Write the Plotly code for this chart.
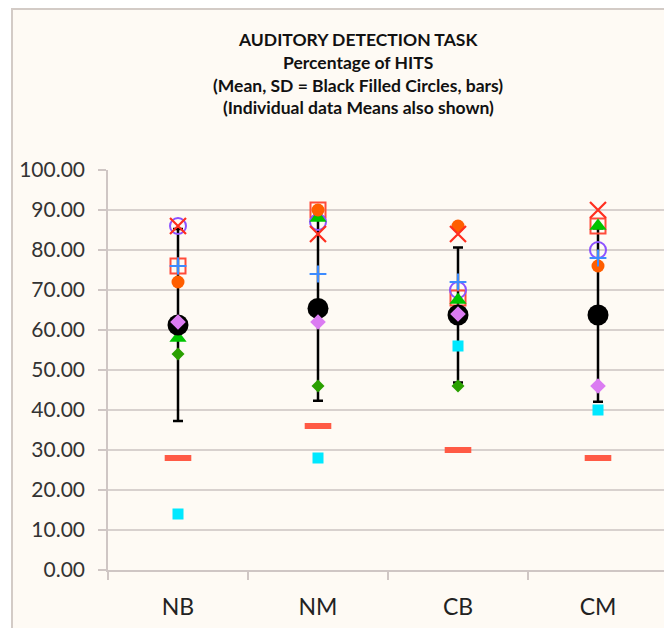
import plotly.graph_objects as go

categories = ["NB", "NM", "CB", "CM"]
mean_hits = [61.25, 65.4, 63.75, 63.75]
sd_hits = [24.0, 23.1, 16.9, 21.7]

red_x = [86, 84, 84, 90]
purple_circle = [86, 87, 70, 80]
red_square = [76, 90, 68, 86]
blue_plus = [76, 74, 72, 78]
orange_circle = [72, 90, 86, 76]
green_triangle = [58, 88, 67.5, 86]
green_diamond = [54, 46, 46, None]
violet_diamond = [62, 62, 64, 46]
red_dash = [28, 36, 30, 28]
cyan_square = [14, 28, 56, 40]

title_lines = [
    "AUDITORY DETECTION TASK",
    "Percentage of HITS",
    "(Mean, SD = Black Filled Circles, bars)",
    "(Individual data Means also shown)",
]
y_ticks = [0, 10, 20, 30, 40, 50, 60, 70, 80, 90, 100]

fig = go.Figure()

# error bars (SD)
fig.add_trace(go.Scatter(
    x=categories, y=mean_hits, mode="markers",
    marker=dict(size=1, color="rgba(0,0,0,0)"),
    error_y=dict(type="data", array=sd_hits, color="black", thickness=2.5, width=5),
    showlegend=False, hoverinfo="skip"))

def add(y, symbol, color, size, lw=2, filled=True):
    if filled:
        marker = dict(symbol=symbol, color=color, size=size, line=dict(width=0))
    else:
        marker = dict(symbol=symbol, color=color, size=size, line=dict(color=color, width=lw))
    fig.add_trace(go.Scatter(x=categories, y=y, mode="markers", marker=marker, showlegend=False))

add(cyan_square, "square", "#00e8ff", 11)
add(red_dash, "line-ew-open", "#ff5a45", 19, lw=6, filled=False)
add(green_diamond, "diamond", "#2aa000", 10)
add(red_square, "square-open", "#ff4b3a", 15, lw=2, filled=False)
add(purple_circle, "circle-open", "#8c52ff", 16, lw=2, filled=False)
add(green_triangle, "triangle-up", "#00c400", 15)
add(orange_circle, "circle", "#ff5e00", 13)
add(blue_plus, "cross-thin-open", "#3d8bff", 12, lw=2, filled=False)
add(red_x, "x-thin-open", "#ff2d1e", 16, lw=2.2, filled=False)
add(mean_hits, "circle", "black", 21)
add(violet_diamond, "diamond", "#db7cf2", 12)

# page body has an 8px margin; figure coords = screen coords - 8
OFF = 8
L, T = 108 - OFF, 170 - OFF
W, H = 672, 628
pw, ph = 560, 400
R = W - L - pw
B = H - T - ph

def px(xs):
    return (xs - OFF - L) / pw

def py(ys):
    return (T + ph - (ys - OFF)) / ph

# cream panel with border
fig.add_shape(type="rect", xref="paper", yref="paper",
              x0=px(12), x1=px(720), y0=py(720), y1=py(9),
              fillcolor="#fefaf4", line=dict(color="#d3cbc6", width=2), layer="below")

for i, t in enumerate(title_lines):
    fig.add_annotation(xref="paper", yref="paper", x=px(358), y=py(39 + 23 * i),
                       text="<b>" + t + "</b>", showarrow=False,
                       font=dict(family="Lato, sans-serif", size=17.5, color="#111111"),
                       xanchor="center", yanchor="middle")

fig.update_layout(
    width=W, height=H,
    margin=dict(l=L, r=R, t=T, b=B),
    paper_bgcolor="white", plot_bgcolor="rgba(0,0,0,0)",
    showlegend=False,
    xaxis=dict(type="category", categoryorder="array", categoryarray=categories,
               range=[-0.5, 3.5], tickson="boundaries", ticks="outside", ticklen=8,
               tickcolor="#cfc6c4", tickwidth=1.5, showgrid=False,
               showline=True, linecolor="#cfc6c4", linewidth=1.5,
               tickfont=dict(family="Lato, sans-serif", size=23, color="#222222"),
               ticklabelstandoff=16, zeroline=False),
    yaxis=dict(range=[0, 100], tickvals=y_ticks,
               ticktext=[f"{v:.2f}" for v in y_ticks],
               ticks="outside", ticklen=8, tickcolor="#cfc6c4", tickwidth=1.5,
               showgrid=True, gridcolor="#d8d1ce", gridwidth=1.5,
               showline=True, linecolor="#cfc6c4", linewidth=1.5, zeroline=False,
               tickfont=dict(family="Lato, sans-serif", size=21, color="#333333"),
               ticklabelstandoff=9),
)

fig.write_html("out.html")
